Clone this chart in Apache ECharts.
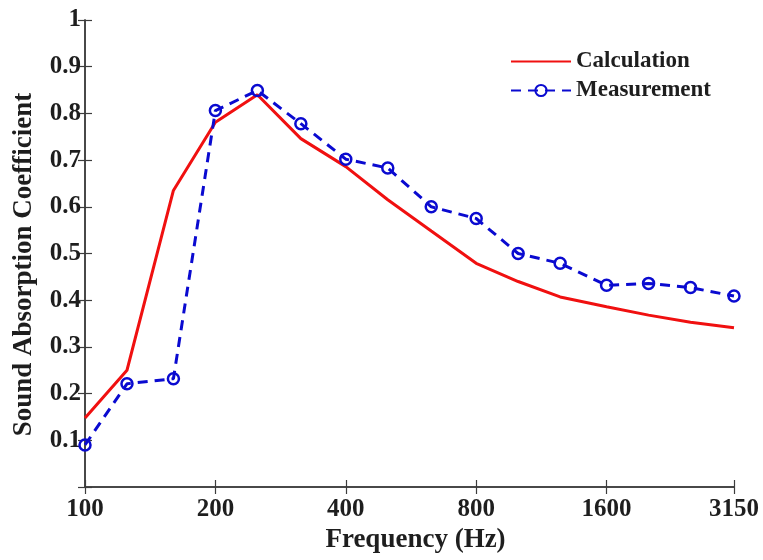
<!DOCTYPE html>
<html>
<head>
<meta charset="utf-8">
<script src="https://cdn.jsdelivr.net/npm/echarts@6/dist/echarts.min.js"></script>
<style>html,body{margin:0;padding:0;background:#fff;}#c{width:763px;height:560px;}</style>
</head>
<body>
<div id="c"></div>
<script>
// Frequency bands (Hz), 1/3 octave
var frequencies = [100, 125, 160, 200, 250, 315, 400, 500, 630, 800, 1000, 1250, 1600, 2000, 2500, 3150];
// Sound absorption coefficient values
var calculation = [0.148, 0.25, 0.635, 0.781, 0.840, 0.746, 0.686, 0.615, 0.548, 0.479, 0.440, 0.407, 0.386, 0.368, 0.353, 0.341];
var measurement = [0.090, 0.221, 0.232, 0.806, 0.849, 0.778, 0.702, 0.683, 0.600, 0.575, 0.500, 0.479, 0.432, 0.436, 0.427, 0.409];
// Tick labels on the frequency axis
var xTickLabels = [100, 200, 400, 800, 1600, 3150];
var seriesNames = ['Calculation', 'Measurement'];

var FONT = "'Liberation Serif', 'Times New Roman', serif";
var AXIS_COLOR = '#3c3c3c';
var TEXT_COLOR = '#1e1e1e';

function toLog(f) { return Math.log2(f / frequencies[0]); }
function fromLog(v) { return frequencies[0] * Math.pow(2, v); }
var xMax = toLog(frequencies[frequencies.length - 1]);

function pairs(vals) {
  return frequencies.map(function (f, i) { return [toLog(f), vals[i]]; });
}
function xLabel(v) {
  var f = fromLog(v);
  for (var i = 0; i < xTickLabels.length; i++) {
    if (Math.abs(xTickLabels[i] - f) / xTickLabels[i] < 0.03) return String(xTickLabels[i]);
  }
  return '';
}

var chart = echarts.init(document.getElementById('c'), null, { renderer: 'canvas' });
var axisCommon = {
  axisLine: { show: true, lineStyle: { color: AXIS_COLOR, width: 1.5 } },
  axisTick: { show: true, inside: true, length: 7, lineStyle: { color: AXIS_COLOR, width: 1.2 } },
  splitLine: { show: false }
};
chart.setOption({
  animation: false,
  backgroundColor: '#fff',
  grid: { left: 85, right: 29, top: 20, bottom: 73, containLabel: false, outerBoundsMode: 'none' },
  legend: {
    orient: 'vertical',
    left: 505,
    top: 45,
    itemWidth: 60,
    itemHeight: 14,
    itemGap: 6,
    data: [
      { name: seriesNames[0], itemStyle: { opacity: 0 } },
      { name: seriesNames[1] }
    ],
    textStyle: { fontFamily: FONT, fontWeight: 'bold', fontSize: 23, color: TEXT_COLOR }
  },
  xAxis: [
    Object.assign({
      type: 'value', min: 0, max: xMax, interval: 1, position: 'bottom',
      name: 'Frequency (Hz)', nameLocation: 'middle', nameGap: 37,
      nameTextStyle: { fontFamily: FONT, fontWeight: 'bold', fontSize: 27, color: TEXT_COLOR, padding: [0, 0, 0, 12] },
      axisLabel: { fontFamily: FONT, fontWeight: 'bold', fontSize: 25, color: TEXT_COLOR, margin: 10,
        showMaxLabel: true, showMinLabel: true, formatter: xLabel }
    }, axisCommon),
    Object.assign({
      type: 'value', min: 0, max: xMax, interval: 1, position: 'top',
      axisLabel: { show: false }
    }, axisCommon)
  ],
  yAxis: [
    Object.assign({
      type: 'value', min: 0, max: 1, interval: 0.1, position: 'left',
      name: 'Sound Absorption Coefficient', nameLocation: 'middle', nameGap: 47, nameRotate: 90,
      nameTextStyle: { fontFamily: FONT, fontWeight: 'bold', fontSize: 27, color: TEXT_COLOR, padding: [0, 22, 0, 0] },
      axisLabel: { fontFamily: FONT, fontWeight: 'bold', fontSize: 25, color: TEXT_COLOR, margin: 4,
        formatter: function (v) { if (Math.abs(v) < 1e-9) return ''; if (Math.abs(v - 1) < 1e-9) return '1'; return v.toFixed(1); } }
    }, axisCommon),
    Object.assign({
      type: 'value', min: 0, max: 1, interval: 0.1, position: 'right',
      axisLabel: { show: false }
    }, axisCommon)
  ],
  series: [
    {
      name: seriesNames[0], type: 'line', data: pairs(calculation),
      showSymbol: false, symbol: 'none',
      lineStyle: { color: '#f01010', width: 3 },
      itemStyle: { color: '#f01010' }
    },
    {
      name: seriesNames[1], type: 'line', data: pairs(measurement),
      symbol: 'circle', symbolSize: 11,
      lineStyle: { color: '#0a0ad0', width: 3, type: [10, 7] },
      itemStyle: { color: 'rgba(255,255,255,0)', borderColor: '#0a0ad0', borderWidth: 2.5 }
    }
  ]
});
</script>
</body>
</html>
